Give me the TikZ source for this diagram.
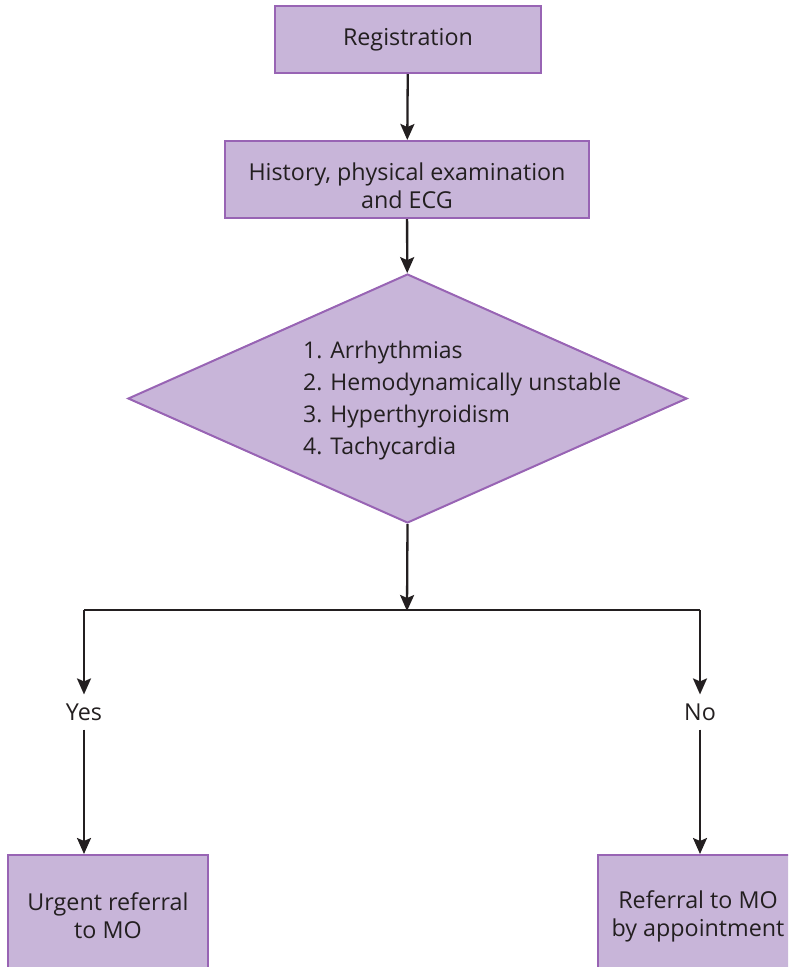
\documentclass[tikz,border=0pt]{standalone}
\usepackage{fontspec}
\setmainfont{Open Sans}
\usetikzlibrary{positioning,shapes.geometric,arrows.meta}
\definecolor{boxfill}{HTML}{C8B5D9}
\definecolor{boxline}{HTML}{9864B4}
\definecolor{ink}{HTML}{231F20}

\begin{document}
\begin{tikzpicture}[x=1pt,y=-1pt,>={Stealth[length=16pt,width=14pt,inset=3pt]},
    line width=2.3pt, draw=ink, text=ink,
    font=\fontsize{23.3pt}{28pt}\selectfont,
    step box/.style={rectangle,draw=boxline,fill=boxfill,line width=2pt,align=center,inner sep=0pt},
    decision/.style={diamond,draw=boxline,fill=boxfill,line width=2pt,inner sep=0pt,minimum width=559pt,minimum height=249pt},
    answer/.style={inner sep=8pt},
    arrow/.style={->,draw=ink}]

    \useasboundingbox (0,0) rectangle (788,967);
    \clip (0,0) rectangle (788,967);

    \node[step box, minimum width=266pt, minimum height=67pt] (reg) at (408,39.5) {Registration};
    \node[step box, minimum width=364pt, minimum height=77pt] (hist) at (407,179.5) {\rule{0pt}{30pt}History, physical examination\\and ECG};
    \node[decision] (cond) at (407.5,398.5) {};
    \node[anchor=west, align=left, inner sep=0pt, font=\fontsize{23pt}{32pt}\selectfont] (condlist) at (302,401) {1. Arrhythmias\\2. Hemodynamically unstable\\3. Hyperthyroidism\\4. Tachycardia};

    \coordinate (split) at (407,610);
    \coordinate (lcorner) at (84,610);
    \coordinate (rcorner) at (700,610);

    \node[answer] (yes) at (84,712) {Yes};
    \node[answer] (no) at (700,712) {No};

    \node[step box, minimum width=200pt, minimum height=122pt] (urgent) at (108,916) {Urgent referral\\to MO};
    \node[step box, minimum width=200pt, minimum height=122pt] (appoint) at (698,916) {Referral to MO\\by appointment};

    \draw[arrow] (reg) -- (hist);
    \draw[arrow] (hist) -- (cond);
    \draw[arrow] (cond.south) -- ([yshift=-1pt]split);
    \draw (lcorner) -- (rcorner);
    \draw[arrow] (lcorner) -- (yes);
    \draw[arrow] (rcorner) -- (no);
    \draw[arrow] (yes) -- (yes |- urgent.north);
    \draw[arrow] (no) -- (no |- appoint.north);
\end{tikzpicture}
\end{document}
